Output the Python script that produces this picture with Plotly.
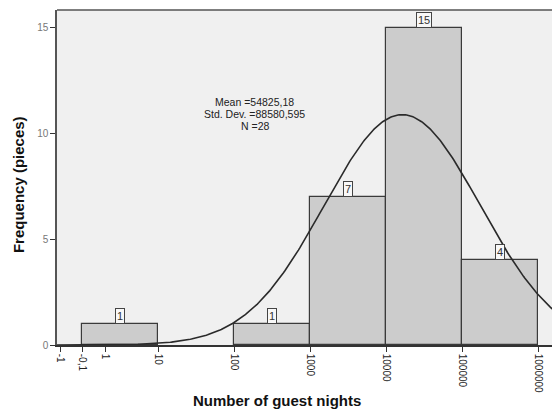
import numpy as np
import plotly.graph_objects as go

# Histogram of log10(guest nights), bins one decade wide
bin_lo = [0, 2, 3, 4, 5]
counts = [1, 1, 7, 15, 4]

# x tick positions (log10 units) and labels as printed
tick_pos = [-0.29, 0.0, 0.31, 1, 2, 3, 4, 5, 6]
tick_text = ["-1", "-0,1", "1", "10", "100", "1000", "10000", "100000", "1000000"]

# Fitted normal curve parameters (log10 units)
curve_mu = 4.21
curve_sd = 1.025
n_total = 28

stats_lines = ["Mean =54825,18", "Std. Dev. =88580,595", "N =28"]

FONT = "Arial, Liberation Sans, sans-serif"

fig = go.Figure()

centers = [b + 0.5 for b in bin_lo]
fig.add_trace(go.Bar(
    x=centers, y=counts, width=1,
    marker=dict(color="#cccccc", line=dict(color="#3a3a3a", width=1.2)),
    hoverinfo="skip", showlegend=False,
))

xs = np.linspace(-0.33, 6.2, 400)
ys = n_total / (curve_sd * np.sqrt(2 * np.pi)) * np.exp(-0.5 * ((xs - curve_mu) / curve_sd) ** 2)
fig.add_trace(go.Scatter(
    x=xs, y=ys, mode="lines",
    line=dict(color="#2a2a2a", width=1.6),
    hoverinfo="skip", showlegend=False,
))

for c, v in zip(centers, counts):
    fig.add_annotation(
        x=c, y=v, xref="x", yref="y", text=str(v), showarrow=False,
        yanchor="bottom", font=dict(family=FONT, size=11, color="#333"),
        bordercolor="#444", borderwidth=1, borderpad=1, bgcolor="#f8f8f8",
    )

for i, line in enumerate(stats_lines):
    fig.add_annotation(
        x=2.27, y=11.5 - i * 0.56, xref="x", yref="y", text=line,
        showarrow=False, font=dict(family=FONT, size=10.5, color="#222"),
        xanchor="center", yanchor="middle", borderpad=0,
    )

# axis titles
fig.add_annotation(x=0.445, y=-0.165, xref="paper", yref="paper",
                   text="<b>Number of guest nights</b>", showarrow=False,
                   font=dict(family=FONT, size=15, color="#111"),
                   xanchor="center", yanchor="middle")
fig.add_annotation(x=-0.079, y=0.48, xref="paper", yref="paper",
                   text="<b>Frequency (pieces)</b>", showarrow=False, textangle=-90,
                   font=dict(family=FONT, size=15, color="#111"),
                   xanchor="center", yanchor="middle")

# top border
fig.add_shape(type="line", xref="paper", yref="paper", x0=0, x1=1, y0=1, y1=1,
              line=dict(color="#555", width=1.5))

fig.update_layout(
    width=552, height=417,
    margin=dict(l=57, r=0, t=10, b=72),
    paper_bgcolor="white", plot_bgcolor="#f0f0f0",
    bargap=0,
    xaxis=dict(
        range=[-0.33, 6.18], tickmode="array", tickvals=tick_pos, ticktext=tick_text,
        tickangle=90, ticks="outside", ticklen=5, tickcolor="#333",
        showline=True, linecolor="#333", linewidth=1.5, showgrid=False, zeroline=False,
        tickfont=dict(family=FONT, size=10, color="#222"),
    ),
    yaxis=dict(
        range=[0, 15.85], tickmode="array", tickvals=[0, 5, 10, 15],
        ticks="outside", ticklen=5, tickcolor="#333",
        showline=True, linecolor="#555", linewidth=1.5, showgrid=False, zeroline=False,
        tickfont=dict(family=FONT, size=10, color="#777"),
    ),
)

fig.write_html("out.html")
